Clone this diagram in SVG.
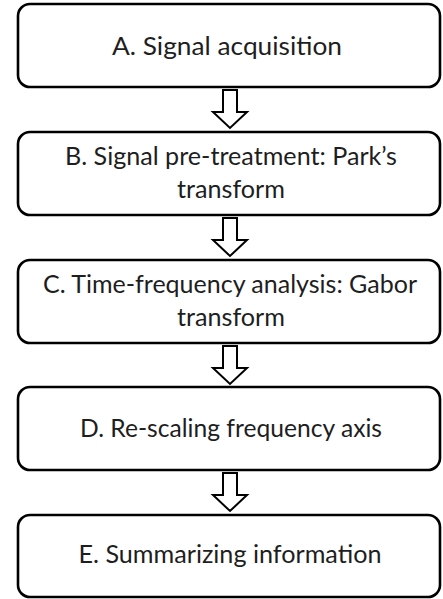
<svg xmlns="http://www.w3.org/2000/svg" width="443" height="599" viewBox="0 0 443 599">
  <defs>
    <style>
      .box { fill: #ffffff; stroke: #000000; stroke-width: 2.6; }
      .lbl { font-family: Lato, "Open Sans", "Liberation Sans", sans-serif; font-size: 25px; fill: #1e1e1e; text-anchor: middle; }
      .arrow { fill: #ffffff; stroke: #000000; stroke-width: 2; stroke-linejoin: miter; }
    </style>
    <!-- hollow block arrow pointing down, tip at (0,0) -->
    <path id="downArrow" d="M -7 -38 L 7 -38 L 7 -16 L 17 -16 L 0 0 L -17 -16 L -7 -16 Z"/>
  </defs>
  <rect width="443" height="599" fill="#ffffff"/>

  <g id="connectors">
    <use href="#downArrow" class="arrow" x="230" y="128"/>
    <use href="#downArrow" class="arrow" x="230" y="256"/>
    <use href="#downArrow" class="arrow" x="230" y="384"/>
    <use href="#downArrow" class="arrow" x="230" y="511"/>
  </g>

  <g id="nodeA">
    <rect class="box" x="18" y="4" width="422" height="83" rx="12"/>
    <text class="lbl" x="227" y="55" textLength="230" lengthAdjust="spacingAndGlyphs">A. Signal acquisition</text>
  </g>

  <g id="nodeB">
    <rect class="box" x="18" y="132" width="422" height="83" rx="12"/>
    <text class="lbl" x="231" y="165" textLength="332" lengthAdjust="spacingAndGlyphs">B. Signal pre-treatment: Park’s</text>
    <text class="lbl" x="231" y="198" textLength="108" lengthAdjust="spacingAndGlyphs">transform</text>
  </g>

  <g id="nodeC">
    <rect class="box" x="18" y="260" width="422" height="83" rx="12"/>
    <text class="lbl" x="230" y="293" textLength="374" lengthAdjust="spacingAndGlyphs">C. Time-frequency analysis: Gabor</text>
    <text class="lbl" x="231" y="326" textLength="108" lengthAdjust="spacingAndGlyphs">transform</text>
  </g>

  <g id="nodeD">
    <rect class="box" x="18" y="387" width="422" height="83" rx="12"/>
    <text class="lbl" x="231" y="437" textLength="302" lengthAdjust="spacingAndGlyphs">D. Re-scaling frequency axis</text>
  </g>

  <g id="nodeE">
    <rect class="box" x="18" y="515" width="422" height="82" rx="12"/>
    <text class="lbl" x="230" y="563" textLength="303" lengthAdjust="spacingAndGlyphs">E. Summarizing information</text>
  </g>
</svg>
